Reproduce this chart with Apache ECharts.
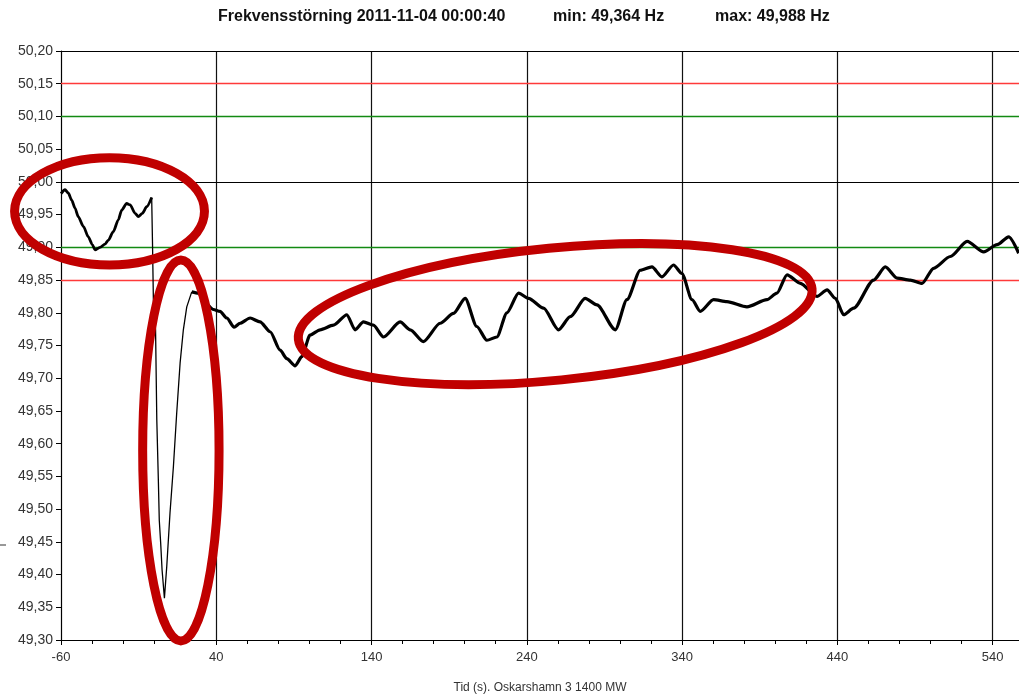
<!DOCTYPE html>
<html>
<head>
<meta charset="utf-8">
<script src="https://cdn.jsdelivr.net/npm/echarts@6/dist/echarts.min.js"></script>
<style>html,body{margin:0;padding:0;background:#fff}#c{width:1019px;height:696px}</style>
</head>
<body>
<div id="c"></div>
<script>
// ---- data ----
const titleParts = ['Frekvensstörning 2011-11-04 00:00:40', 'min: 49,364 Hz', 'max: 49,988 Hz'];
const xAxisName = 'Tid (s). Oskarshamn 3 1400 MW';
const tStart = -60;   // first tick label
const tEnd = 557;     // visible end of time axis
const yMin = 49.30, yMax = 50.20, yStep = 0.05;

// before the trip (s, Hz)
const preT = [-60, -57.4, -55.3, -53.1, -51.0, -48.9, -45.6, -42.4, -39.8, -38.1, -34.9, -31.6, -29.5, -26.3, -23.1, -20.9, -17.7, -15.5, -12.3, -10.2, -7.6, -4.8, -1.6];
const preV = [49.982, 49.988, 49.983, 49.972, 49.960, 49.947, 49.932, 49.916, 49.904, 49.896, 49.900, 49.905, 49.911, 49.924, 49.942, 49.957, 49.967, 49.965, 49.952, 49.947, 49.952, 49.962, 49.976];
// fast dip and recovery
const dropT = [-1.6, -1.1, -0.5, 0.9, 1.7, 2.7, 3.3, 4.2, 5.1, 6.6, 8.1, 10.2, 12.4, 14.5, 16.7, 18.8, 21.0, 24.2];
const dropV = [49.976, 49.911, 49.820, 49.774, 49.636, 49.544, 49.483, 49.448, 49.407, 49.364, 49.412, 49.494, 49.565, 49.646, 49.723, 49.774, 49.809, 49.832];
// after the dip
const postT = [24.2, 28.5, 33.0, 38.1, 42.4, 46.8, 51.5, 55.3, 61.8, 68.2, 74.7, 81.1, 85.4, 90.8, 95.1, 100.4, 106.9, 115.5, 124.1, 129.4, 134.8, 141.2, 147.7, 158.4, 164.9, 173.4, 184.2, 192.8, 200.3, 207.8, 214.3, 220.7, 227.2, 234.7, 241.1, 250.8, 260.4, 268.0, 277.6, 285.2, 297.0, 304.5, 313.1, 320.6, 327.0, 334.5, 339.9, 346.4, 351.7, 360.3, 368.9, 381.8, 394.7, 401.1, 407.6, 416.2, 426.9, 433.4, 438.7, 444.1, 450.5, 463.4, 470.9, 478.5, 487.0, 494.6, 502.0, 512.8, 523.6, 534.3, 542.9, 550.4, 556.8];
const postV = [49.832, 49.830, 49.815, 49.805, 49.802, 49.792, 49.778, 49.784, 49.792, 49.786, 49.771, 49.743, 49.730, 49.719, 49.733, 49.766, 49.774, 49.781, 49.797, 49.774, 49.786, 49.781, 49.763, 49.786, 49.774, 49.756, 49.784, 49.799, 49.822, 49.779, 49.758, 49.763, 49.800, 49.830, 49.822, 49.807, 49.774, 49.794, 49.822, 49.812, 49.774, 49.820, 49.865, 49.870, 49.855, 49.873, 49.860, 49.820, 49.802, 49.820, 49.817, 49.809, 49.820, 49.830, 49.858, 49.845, 49.825, 49.835, 49.822, 49.797, 49.807, 49.850, 49.870, 49.853, 49.850, 49.845, 49.868, 49.886, 49.909, 49.893, 49.904, 49.916, 49.891];

// reference levels (Hz)
const blackLevels = [50.20, 50.00];
const greenLevels = [50.10, 49.90];
const redLevels = [50.15, 49.85];

// highlighted regions (time range s, frequency range Hz, tilt deg)
const regions = [
  { t0: -89.9, t1: 32.4, v0: 49.873, v1: 50.037, tilt: 0 },
  { t0: -7.4, t1: 41.8, v0: 49.2985, v1: 49.8805, tilt: 0 },
  { t0: 92.1, t1: 424.5, v0: 49.697, v1: 49.899, tilt: 5.6 }
];

// ---- chart ----
const toX = t => t - tStart; // axis counts ticks from its start
const pairs = (ts, vs) => ts.map((t, i) => [toX(t), vs[i]]);
const fmtY = v => v.toFixed(2).replace('.', ',');
const FONT = "'Liberation Sans', Arial, sans-serif";

const chart = echarts.init(document.getElementById('c'), null, { renderer: 'canvas' });

const levelLines = []
  .concat(blackLevels.map(v => ({ yAxis: v, lineStyle: { color: '#000', width: 1.2, type: 'solid' } })))
  .concat(greenLevels.map(v => ({ yAxis: v, lineStyle: { color: '#138a13', width: 1.3, type: 'solid' } })))
  .concat(redLevels.map(v => ({ yAxis: v, lineStyle: { color: '#ff3a3a', width: 1.4, type: 'solid' } })));

const lineCommon = { type: 'line', symbol: 'none', animation: false, silent: true, z: 3, smooth: 0.25, smoothMonotone: 'x' };

chart.setOption({
  animation: false,
  grid: { left: 61, top: 51, right: 0, bottom: 56, containLabel: false, outerBoundsMode: 'none' },
  xAxis: {
    type: 'value', min: 0, max: toX(tEnd), interval: 100,
    name: xAxisName, nameLocation: 'middle', nameGap: 42,
    nameTextStyle: { color: '#333', fontSize: 12, fontFamily: FONT },
    axisLine: { show: true, lineStyle: { color: '#000', width: 1.2 } },
    axisTick: { show: true, length: 5, lineStyle: { color: '#000' } },
    minorTick: { show: true, splitNumber: 5, length: 4, lineStyle: { color: '#000' } },
    axisLabel: {
      color: '#333', fontSize: 13, fontFamily: FONT, margin: 11,
      showMaxLabel: false,
      formatter: v => (Math.abs(v % 100) < 1e-6 ? String(v + tStart) : '')
    },
    splitLine: { show: true, showMinLine: false, showMaxLine: false, lineStyle: { color: '#111', width: 1.2 } }
  },
  yAxis: {
    type: 'value', min: yMin, max: yMax, interval: yStep,
    axisLine: { show: true, lineStyle: { color: '#000', width: 1.2 } },
    axisTick: { show: true, length: 5, lineStyle: { color: '#000' } },
    axisLabel: { color: '#333', fontSize: 14, fontFamily: FONT, margin: 8, formatter: fmtY },
    splitLine: { show: false }
  },
  series: [
    {
      type: 'line', data: [], symbol: 'none', silent: true, z: 1,
      markLine: { silent: true, symbol: 'none', z: 1, label: { show: false }, animation: false, data: levelLines }
    },
    Object.assign({}, lineCommon, { data: pairs(preT, preV), lineStyle: { color: '#000', width: 2.8 } }),
    Object.assign({}, lineCommon, { data: pairs(dropT, dropV), smooth: false, lineStyle: { color: '#000', width: 1.3 } }),
    Object.assign({}, lineCommon, { data: pairs(postT, postV), lineStyle: { color: '#000', width: 3.2 } })
  ]
});

const titleX = [218, 553, 715];
const graphics = titleParts.map((s, i) => ({
  type: 'text', x: titleX[i], y: 17, z: 10,
  style: { text: s, fill: '#111', font: "bold 16px " + FONT, textAlign: 'left', textVerticalAlign: 'middle' }
}));
graphics.push({ type: 'line', z: 10, shape: { x1: 0, y1: 545, x2: 6, y2: 545 }, style: { stroke: '#333', lineWidth: 1 } });
regions.forEach(r => {
  const a = chart.convertToPixel({ gridIndex: 0 }, [toX(r.t0), r.v1]);
  const b = chart.convertToPixel({ gridIndex: 0 }, [toX(r.t1), r.v0]);
  const cx = (a[0] + b[0]) / 2, cy = (a[1] + b[1]) / 2;
  graphics.push({
    type: 'ellipse', z: 20, x: cx, y: cy, rotation: r.tilt * Math.PI / 180,
    shape: { cx: 0, cy: 0, rx: Math.abs(b[0] - a[0]) / 2, ry: Math.abs(b[1] - a[1]) / 2 },
    style: { fill: 'none', stroke: '#c00000', lineWidth: 9 }
  });
});
chart.setOption({ graphic: graphics });
</script>
</body>
</html>
